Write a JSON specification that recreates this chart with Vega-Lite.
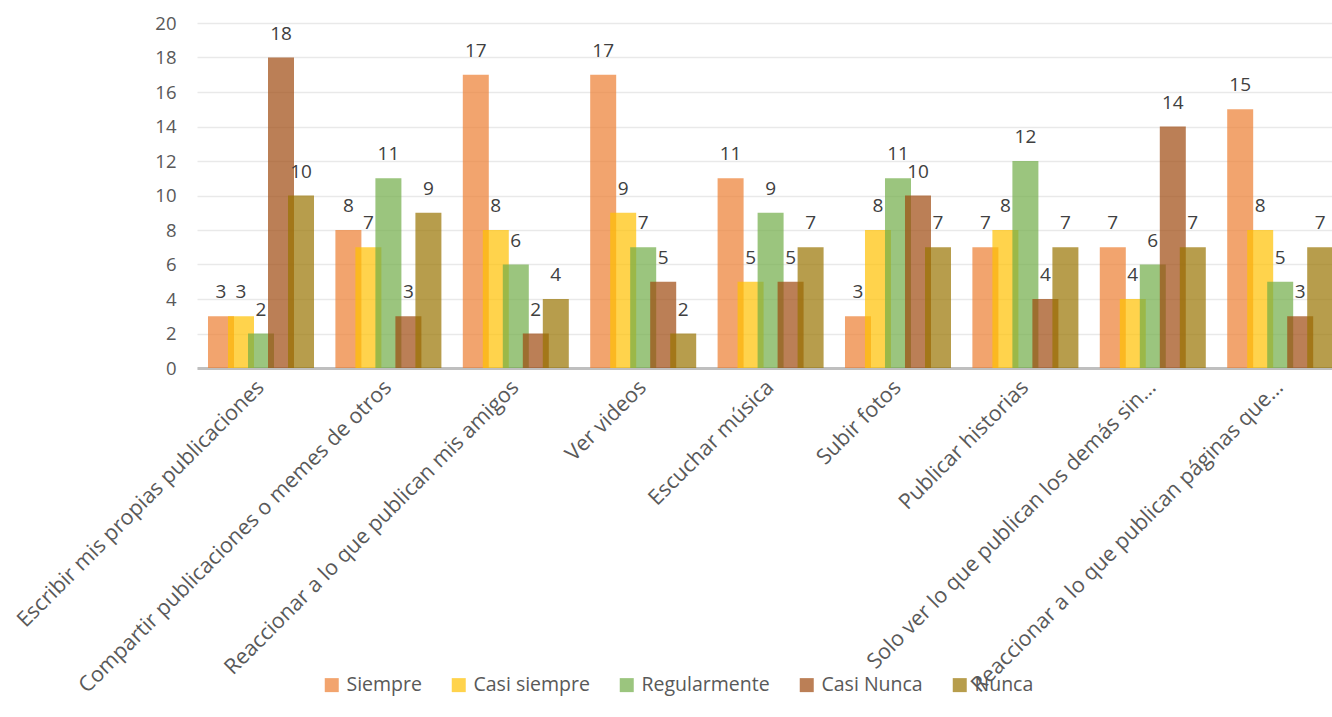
{
  "$schema": "https://vega.github.io/schema/vega-lite/v6.json",
  "width": 1135,
  "height": 345,
  "autosize": {"type": "none"},
  "padding": {"left": 197, "top": 23, "right": 0, "bottom": 349},
  "background": "white",
  "config": {
    "view": {"stroke": null},
    "font": "Open Sans"
  },
  "data": {
    "values": [
      {"cat": "Escribir mis propias publicaciones", "serie": "Siempre", "v": 3},
      {"cat": "Escribir mis propias publicaciones", "serie": "Casi siempre", "v": 3},
      {"cat": "Escribir mis propias publicaciones", "serie": "Regularmente", "v": 2},
      {"cat": "Escribir mis propias publicaciones", "serie": "Casi Nunca", "v": 18},
      {"cat": "Escribir mis propias publicaciones", "serie": "Nunca", "v": 10},
      {"cat": "Compartir publicaciones o memes de otros", "serie": "Siempre", "v": 8},
      {"cat": "Compartir publicaciones o memes de otros", "serie": "Casi siempre", "v": 7},
      {"cat": "Compartir publicaciones o memes de otros", "serie": "Regularmente", "v": 11},
      {"cat": "Compartir publicaciones o memes de otros", "serie": "Casi Nunca", "v": 3},
      {"cat": "Compartir publicaciones o memes de otros", "serie": "Nunca", "v": 9},
      {"cat": "Reaccionar a lo que publican mis amigos", "serie": "Siempre", "v": 17},
      {"cat": "Reaccionar a lo que publican mis amigos", "serie": "Casi siempre", "v": 8},
      {"cat": "Reaccionar a lo que publican mis amigos", "serie": "Regularmente", "v": 6},
      {"cat": "Reaccionar a lo que publican mis amigos", "serie": "Casi Nunca", "v": 2},
      {"cat": "Reaccionar a lo que publican mis amigos", "serie": "Nunca", "v": 4},
      {"cat": "Ver videos", "serie": "Siempre", "v": 17},
      {"cat": "Ver videos", "serie": "Casi siempre", "v": 9},
      {"cat": "Ver videos", "serie": "Regularmente", "v": 7},
      {"cat": "Ver videos", "serie": "Casi Nunca", "v": 5},
      {"cat": "Ver videos", "serie": "Nunca", "v": 2},
      {"cat": "Escuchar música", "serie": "Siempre", "v": 11},
      {"cat": "Escuchar música", "serie": "Casi siempre", "v": 5},
      {"cat": "Escuchar música", "serie": "Regularmente", "v": 9},
      {"cat": "Escuchar música", "serie": "Casi Nunca", "v": 5},
      {"cat": "Escuchar música", "serie": "Nunca", "v": 7},
      {"cat": "Subir fotos", "serie": "Siempre", "v": 3},
      {"cat": "Subir fotos", "serie": "Casi siempre", "v": 8},
      {"cat": "Subir fotos", "serie": "Regularmente", "v": 11},
      {"cat": "Subir fotos", "serie": "Casi Nunca", "v": 10},
      {"cat": "Subir fotos", "serie": "Nunca", "v": 7},
      {"cat": "Publicar historias", "serie": "Siempre", "v": 7},
      {"cat": "Publicar historias", "serie": "Casi siempre", "v": 8},
      {"cat": "Publicar historias", "serie": "Regularmente", "v": 12},
      {"cat": "Publicar historias", "serie": "Casi Nunca", "v": 4},
      {"cat": "Publicar historias", "serie": "Nunca", "v": 7},
      {"cat": "Solo ver lo que publican los demás sin…", "serie": "Siempre", "v": 7},
      {"cat": "Solo ver lo que publican los demás sin…", "serie": "Casi siempre", "v": 4},
      {"cat": "Solo ver lo que publican los demás sin…", "serie": "Regularmente", "v": 6},
      {"cat": "Solo ver lo que publican los demás sin…", "serie": "Casi Nunca", "v": 14},
      {"cat": "Solo ver lo que publican los demás sin…", "serie": "Nunca", "v": 7},
      {"cat": "Reaccionar a lo que publican páginas que…", "serie": "Siempre", "v": 15},
      {"cat": "Reaccionar a lo que publican páginas que…", "serie": "Casi siempre", "v": 8},
      {"cat": "Reaccionar a lo que publican páginas que…", "serie": "Regularmente", "v": 5},
      {"cat": "Reaccionar a lo que publican páginas que…", "serie": "Casi Nunca", "v": 3},
      {"cat": "Reaccionar a lo que publican páginas que…", "serie": "Nunca", "v": 7}
    ]
  },
  "encoding": {
    "x": {
      "field": "cat",
      "type": "nominal",
      "sort": null,
      "scale": {"paddingInner": 0.215, "paddingOuter": 0.062, "align": 0.886},
      "axis": {
        "title": null,
        "labelAngle": -45,
        "labelAlign": "right",
        "labelBaseline": "middle",
        "labelFont": "Open Sans",
        "labelFontSize": 21.5,
        "labelColor": "#595959",
        "labelPadding": 16,
        "labelLimit": 600,
        "ticks": false,
        "domainColor": "#BFBFBF",
        "domainWidth": 3,
        "grid": false
      }
    },
    "xOffset": {
      "field": "serie",
      "type": "nominal",
      "sort": ["Siempre", "Casi siempre", "Regularmente", "Casi Nunca", "Nunca"],
      "scale": {"paddingInner": 0, "paddingOuter": 0}
    },
    "y": {
      "field": "v",
      "type": "quantitative",
      "scale": {"domain": [0, 20], "nice": false},
      "axis": {
        "title": null,
        "values": [0, 2, 4, 6, 8, 10, 12, 14, 16, 18, 20],
        "ticks": false,
        "domain": false,
        "labelFont": "Open Sans",
        "labelFontSize": 18.5,
        "labelColor": "#595959",
        "labelPadding": 21,
        "gridColor": "#E9E9E9",
        "gridWidth": 1.5
      }
    }
  },
  "layer": [
    {
      "mark": {"type": "bar", "width": 26, "opacity": 0.7},
      "encoding": {
        "color": {
          "field": "serie",
          "type": "nominal",
          "sort": ["Siempre", "Casi siempre", "Regularmente", "Casi Nunca", "Nunca"],
          "scale": {
            "domain": ["Siempre", "Casi siempre", "Regularmente", "Casi Nunca", "Nunca"],
            "range": ["#ED7D31", "#FFC000", "#70AD47", "#9E480E", "#997300"]
          },
          "legend": {
            "title": null,
            "orient": "none",
            "direction": "horizontal",
            "legendX": 125,
            "legendY": 652,
            "symbolType": "square",
            "symbolSize": 196,
            "symbolOpacity": 0.7,
            "symbolStrokeWidth": 0,
            "labelFont": "Open Sans",
            "labelFontSize": 19.5,
            "labelColor": "#595959",
            "labelOffset": 5,
            "columnPadding": 27,
            "padding": 0
          }
        }
      }
    },
    {
      "mark": {"type": "text", "baseline": "middle", "dy": -24, "font": "Open Sans", "fontSize": 19, "color": "#404040"},
      "encoding": {
        "text": {"field": "v", "type": "quantitative"}
      }
    }
  ]
}
